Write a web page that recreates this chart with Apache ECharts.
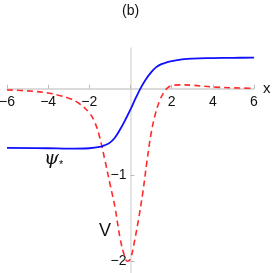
<!DOCTYPE html>
<html><head><meta charset="utf-8">
<script src="https://cdn.jsdelivr.net/npm/echarts@6/dist/echarts.min.js"></script>
<style>html,body{margin:0;padding:0;background:#fff}#c{width:273px;height:273px}</style>
</head><body><div id="c"></div>
<script>
var xTicks = [-6,-4,-2,0,2,4,6];
var yTicks = [-2,-1];
var psiX = [-6,-4,-3,-2,-1.5,-1.25,-1,-0.75,-0.5,-0.25,0,0.25,0.5,0.75,1,1.25,1.5,1.75,2,2.5,3,4,5,6];
var psiY = [-0.685,-0.69,-0.695,-0.69,-0.675,-0.655,-0.625,-0.565,-0.47,-0.36,-0.24,-0.11,0.01,0.11,0.19,0.25,0.285,0.305,0.32,0.34,0.35,0.355,0.358,0.36];
var vX = [-6,-5,-4,-3.5,-3,-2.5,-2,-1.75,-1.5,-1.25,-1,-0.75,-0.5,-0.3,-0.15,0,0.2,0.4,0.6,0.8,1.0,1.2,1.4,1.6,1.8,2.0,2.4,3,4,5,6];
var vY = [-0.015,-0.025,-0.05,-0.075,-0.11,-0.17,-0.28,-0.38,-0.56,-0.82,-1.10,-1.38,-1.74,-1.93,-2.0,-1.97,-1.76,-1.50,-1.20,-0.84,-0.52,-0.30,-0.15,-0.05,0.01,0.035,0.045,0.04,0.02,0.01,0.005];
function pairs(a,b){return a.map(function(v,i){return [v,b[i]];});}
var chart = echarts.init(document.getElementById('c'));
var font = 'Liberation Sans, Arial, sans-serif';
var gL = 7, gR = 19, gT = 48, gB = 0, W = 273, H = 273;
var yMin = -2.136, yMax = 0.472, xMin = -6, xMax = 6;
var zeroYpx = gT + (yMax - 0) / (yMax - yMin) * (H - gT - gB);
var zeroXpx = gL + (0 - xMin) / (xMax - xMin) * (W - gL - gR);
chart.setOption({
  animation:false,
  grid:{left:gL,right:gR,top:gT,bottom:gB,containLabel:false,outerBoundsMode:'none'},
  xAxis:{type:'value',min:xMin,max:xMax,interval:2,position:'bottom',offset:-(H - gB - zeroYpx),
    axisLine:{onZero:false,lineStyle:{color:'#cfcfcf',width:1.5}},
    axisTick:{show:true,inside:true,length:4,lineStyle:{color:'#bbb'}},
    splitLine:{show:false},
    axisLabel:{margin:6,color:'#111',fontSize:14,fontFamily:font,
      formatter:function(v){return v===0?'':(v<0?'\u2212'+(-v):''+v);}}
  },
  yAxis:{type:'value',min:yMin,max:yMax,position:'left',offset:-(zeroXpx - gL),
    axisLine:{onZero:false,lineStyle:{color:'#dcdcdc',width:1.5}},
    axisTick:{show:true,inside:true,length:4,customValues:yTicks,lineStyle:{color:'#bbb'}},
    splitLine:{show:false},
    axisLabel:{margin:4,color:'#111',fontSize:14,fontFamily:font,customValues:yTicks,
      formatter:function(v){return v<0?'\u2212'+(-v):''+v;}}
  },
  series:[
    {type:'line',data:pairs(vX,vY),smooth:0.4,showSymbol:false,z:2,
      lineStyle:{color:'#ff2a2a',width:1.6,type:[6,4]}},
    {type:'line',data:pairs(psiX,psiY),smooth:0.4,showSymbol:false,z:3,
      lineStyle:{color:'#1010ff',width:1.8}}
  ],
  graphic:[
    {type:'text',left:122,top:4,style:{text:'(b)',fontSize:14,fontFamily:font,fill:'#111'}},
    {type:'text',left:263,top:81,style:{text:'x',fontSize:15,fontFamily:font,fill:'#111'}},
    {type:'text',left:44,top:150,style:{rich:{a:{fontSize:19,fontStyle:'italic',fontFamily:'DejaVu Serif, serif',fill:'#111'},b:{fontSize:11,fontFamily:font,fill:'#111',padding:[10,0,0,0]}},text:'{a|ψ}{b|*}'}},
    {type:'text',left:99,top:222,style:{text:'V',fontSize:18,fontFamily:font,fill:'#111'}}
  ]
});
</script></body></html>
